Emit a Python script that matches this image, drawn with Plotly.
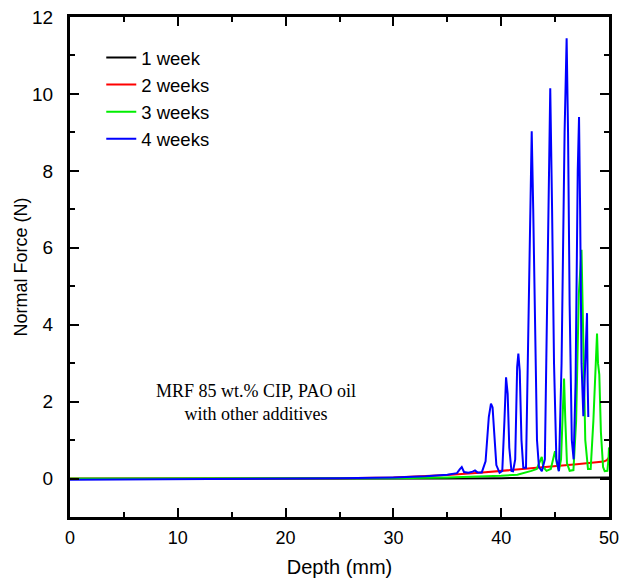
import plotly.graph_objects as go

# ---- data ----
week1_x = [0, 10, 20, 30, 35, 40, 45, 50]
week1_y = [-0.01, -0.01, 0.0, 0.0, 0.0, 0.01, 0.02, 0.03]

week2_x = [0, 10, 20, 25, 30, 33, 35, 38, 41, 44, 47, 49.5, 49.8, 50]
week2_y = [0.0, 0.0, 0.0, 0.01, 0.03, 0.06, 0.09, 0.15, 0.22, 0.29, 0.37, 0.44, 0.48, 0.55]

week3_x = [0, 10, 20, 30, 35, 38, 40, 41.5, 42.2, 42.8, 43.3, 43.6, 43.76, 43.9, 44.2,
           44.6, 44.85, 44.99, 45.15, 45.35, 45.55, 45.75, 45.83, 45.95, 46.1, 46.35, 46.7,
           46.95, 47.2, 47.45, 47.6, 47.8, 48.05, 48.3, 48.55, 48.78, 48.89, 48.98, 49.1,
           49.25, 49.45, 49.6, 49.85, 49.95, 50.0]
week3_y = [0.0, 0.0, 0.0, 0.01, 0.03, 0.05, 0.07, 0.1, 0.15, 0.2, 0.25, 0.45, 0.56, 0.3, 0.2,
           0.25, 0.6, 0.71, 0.4, 0.2, 0.5, 2.3, 2.6, 1.5, 0.4, 0.2, 0.22,
           1.5, 4.8, 5.95, 4.0, 1.0, 0.25, 0.25, 1.5, 3.4, 3.77, 3.0, 2.7,
           1.2, 0.3, 0.19, 0.2, 0.5, 0.81]

week4_x = [0, 10, 20, 25, 30, 33, 35, 35.9, 36.15, 36.34, 36.55, 36.95, 37.35, 37.57, 37.8,
           38.2, 38.55, 38.85, 39.05, 39.2, 39.35, 39.55, 39.85, 40.1, 40.3, 40.45, 40.6,
           40.75, 40.95, 41.1, 41.3, 41.48, 41.59, 41.72, 41.88, 42.05, 42.3, 42.55, 42.83,
           42.97, 43.12, 43.32, 43.5, 43.77, 44.05, 44.35, 44.55, 44.72, 44.9, 45.12, 45.35,
           45.6, 45.88, 46.07, 46.2, 46.35, 46.55, 46.72, 46.9, 47.1, 47.22, 47.32, 47.45,
           47.62, 47.82, 47.96, 48.02, 48.08]
week4_y = [-0.03, -0.02, 0.0, 0.01, 0.03, 0.06, 0.1, 0.14, 0.24, 0.30, 0.17, 0.15, 0.18, 0.21, 0.16,
           0.16, 0.45, 1.6, 1.95, 1.85, 1.2, 0.35, 0.15, 0.2, 1.5, 2.63, 2.2,
           0.8, 0.2, 0.19, 0.5, 2.9, 3.25, 2.8, 1.0, 0.28, 0.28, 4.0, 9.03,
           7.0, 4.0, 1.0, 0.3, 0.19, 0.5, 6.0, 10.15, 7.0, 3.0, 0.5, 0.19,
           3.0, 9.0, 11.45, 9.0, 4.5, 1.0, 0.5, 2.5, 8.0, 9.4, 7.0, 3.0,
           1.62, 3.5, 4.3, 2.5, 1.6]

series = [
    ("1 week", week1_x, week1_y, "#000000"),
    ("2 weeks", week2_x, week2_y, "#ff0000"),
    ("3 weeks", week3_x, week3_y, "#00ee00"),
    ("4 weeks", week4_x, week4_y, "#0000ff"),
]

x_ticks = [0, 10, 20, 30, 40, 50]
y_ticks = [0, 2, 4, 6, 8, 10, 12]

FONT = "Liberation Sans, Arial"

fig = go.Figure()
for name, xs, ys, col in series:
    fig.add_trace(go.Scatter(x=xs, y=ys, mode="lines", name=name,
                             line=dict(color=col, width=2)))

axis_common = dict(
    showline=True, linecolor="black", linewidth=3, mirror="ticks",
    ticks="inside", ticklen=9, tickwidth=2, tickcolor="black",
    showgrid=False, zeroline=False, automargin=False,
    ticklabeloverflow="allow",
)

fig.update_xaxes(range=[0, 50], tickvals=x_ticks,
                 minor=dict(dtick=5, ticks="inside", ticklen=5, tickwidth=2, tickcolor="black"),
                 tickfont=dict(family=FONT, size=18, color="black"),
                 ticklabelstandoff=2,
                 title=dict(text="Depth (mm)", font=dict(family=FONT, size=20, color="black"),
                            standoff=14),
                 **axis_common)
fig.update_yaxes(range=[-1, 12], tickvals=y_ticks,
                 minor=dict(dtick=1, ticks="inside", ticklen=5, tickwidth=2, tickcolor="black"),
                 tickfont=dict(family=FONT, size=19, color="black"),
                 ticklabelstandoff=10,
                 title=dict(text="Normal Force (N)", font=dict(family=FONT, size=18, color="black"),
                            standoff=0),
                 **axis_common)

fig.add_annotation(x=0.345, y=0.23, xref="paper", yref="paper",
                   xanchor="center", yanchor="middle",
                   text="MRF 85 wt.% CIP, PAO oil<br>with other additives",
                   showarrow=False, align="center",
                   font=dict(family="Liberation Serif, Times New Roman", size=18, color="black"))

fig.update_layout(
    width=622, height=578,
    margin=dict(l=70, r=13, t=17, b=61),
    paper_bgcolor="white", plot_bgcolor="white",
    showlegend=True,
    legend=dict(x=0.058, y=0.956, xanchor="left", yanchor="top",
                bgcolor="rgba(0,0,0,0)", borderwidth=0,
                font=dict(family=FONT, size=18.5, color="black"),
                tracegroupgap=0),
)

# remove the browser's default 8px body margin so the 622x578 figure fills the window exactly
fig.write_html("out.html", config={"displayModeBar": False},
               post_script="document.body.style.margin='0';")
